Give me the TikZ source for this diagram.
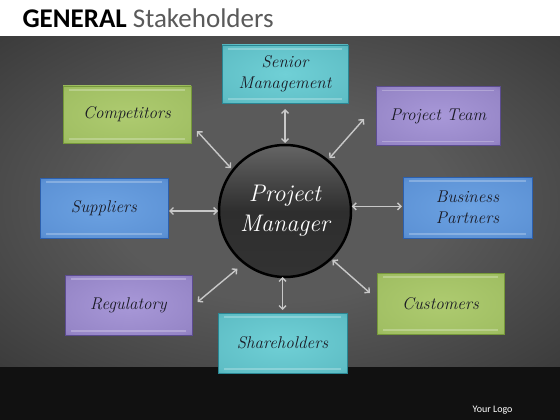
\documentclass[tikz,border=0pt]{standalone}
\usepackage{fontspec}
\newfontfamily\titlefont{Carlito}
\usetikzlibrary{arrows.meta,calc}
\definecolor{bgmid}{HTML}{5A5A5A}
\definecolor{bgedge}{HTML}{262626}
\definecolor{band}{HTML}{111111}
\definecolor{titlegray}{HTML}{5A5A5A}
\definecolor{arrowgray}{HTML}{C8C8C8}
\definecolor{boxtext}{HTML}{1A1A24}
\definecolor{tealout}{HTML}{2A8794}
\definecolor{tealin}{HTML}{70D0D6}
\definecolor{greenout}{HTML}{76993A}
\definecolor{greenin}{HTML}{AECB70}
\definecolor{purpout}{HTML}{5C4C90}
\definecolor{purpin}{HTML}{A898D8}
\definecolor{blueout}{HTML}{2C60AE}
\definecolor{bluein}{HTML}{6CA2E2}
\definecolor{sph0}{HTML}{6E6E6E}
\definecolor{sph1}{HTML}{333333}
\definecolor{sph2}{HTML}{2E2E2E}
\definecolor{sph3}{HTML}{707070}
\definecolor{sph4}{HTML}{B4B4B4}
\pgfdeclareradialshading{bgshade}{\pgfpoint{0bp}{0bp}}{color(0bp)=(bgmid); color(15bp)=(bgmid); color(50bp)=(bgedge); color(75bp)=(bgedge)}
\pgfdeclareradialshading{tealsh}{\pgfpoint{0bp}{0bp}}{color(0bp)=(tealin); color(32bp)=(tealin!75!tealout); color(50bp)=(tealout); color(75bp)=(tealout)}
\pgfdeclareradialshading{greensh}{\pgfpoint{0bp}{0bp}}{color(0bp)=(greenin); color(32bp)=(greenin!75!greenout); color(50bp)=(greenout); color(75bp)=(greenout)}
\pgfdeclareradialshading{purpsh}{\pgfpoint{0bp}{0bp}}{color(0bp)=(purpin); color(32bp)=(purpin!75!purpout); color(50bp)=(purpout); color(75bp)=(purpout)}
\pgfdeclareradialshading{bluesh}{\pgfpoint{0bp}{0bp}}{color(0bp)=(bluein); color(32bp)=(bluein!75!blueout); color(50bp)=(blueout); color(75bp)=(blueout)}
\pgfdeclareverticalshading{sphere}{100bp}{color(0bp)=(sph0); color(20bp)=(sph1); color(50bp)=(sph2); color(80bp)=(sph3); color(100bp)=(sph4)}
\begin{document}
\begin{tikzpicture}[x=1pt,y=-1pt,
  stake/.style 2 args={rectangle, inner sep=0pt, outer sep=0pt,
    shading=#1, draw=#2, line width=0.8pt,
    text=boxtext, align=center,
    font=\fontsize{17}{21}\selectfont\itshape,
    path picture={
      \draw[white, opacity=0.25, line width=1.2pt]
        ([shift={(6,4)}]path picture bounding box.north west) --
        ([shift={(-6,4)}]path picture bounding box.north east);
      \draw[white, opacity=0.25, line width=1.2pt]
        ([shift={(6,-4)}]path picture bounding box.south west) --
        ([shift={(-6,-4)}]path picture bounding box.south east);
    }},
  conn/.style={draw=arrowgray, line width=1.4pt,
    {Straight Barb[length=3.5pt,width=7pt]}-{Straight Barb[length=3.5pt,width=7pt]}}
]
\useasboundingbox (0,0) rectangle (560,420);
\fill[white] (0,0) rectangle (560,37);
\shade[shading=bgshade] (0,37) rectangle (560,367);
\fill[band] (0,367) rectangle (560,420);

\node[anchor=base west, font=\titlefont\fontsize{27}{32}\selectfont] (title) at (19,28)
  {\textbf{GENERAL} \textcolor{titlegray}{Stakeholders}};
\node[anchor=base east, text=white, font=\titlefont\fontsize{10}{12}\selectfont] (logo) at (516,412) {Your Logo};

\node[circle, minimum size=132pt, inner sep=0pt, outer sep=0pt, draw=black, line width=2.5pt,
  shading=sphere, text=white, align=center, font=\fontsize{24}{30}\selectfont\itshape]
  (pm) at (285,211) {Project\\Manager};

\node[stake={tealsh}{tealout}, minimum width=126pt, minimum height=58pt] (sm) at (285,74) {Senior\\Management};
\node[stake={greensh}{greenout}, minimum width=128pt, minimum height=57pt] (comp) at (127,114.5) {Competitors};
\node[stake={purpsh}{purpout}, minimum width=124pt, minimum height=59pt] (pt) at (438,116) {Project Team};
\node[stake={bluesh}{blueout}, minimum width=128pt, minimum height=60pt] (sup) at (104,208) {Suppliers};
\node[stake={bluesh}{blueout}, minimum width=129pt, minimum height=61pt] (bp) at (467.5,207.5) {Business\\Partners};
\node[stake={purpsh}{purpout}, minimum width=127pt, minimum height=60pt] (reg) at (128.5,305) {Regulatory};
\node[stake={greensh}{greenout}, minimum width=127pt, minimum height=61pt] (cust) at (440.5,303.5) {Customers};
\node[stake={tealsh}{tealout}, minimum width=129pt, minimum height=60pt] (sh) at (282.5,343) {Shareholders};

\draw[conn, shorten <=2pt, shorten >=6pt] (pm.north) -- (sm.south);
\draw[conn, shorten <=3pt] (pm.142) -- ([shift={(6,-12)}]comp.south east);
\draw[conn, shorten <=3pt] (pm.50) -- ([shift={(-12,-26.5)}]pt.south west);
\draw[conn, shorten <=1pt, shorten >=1pt] (pm.west) -- (sup.east |- pm.west);
\draw[conn, shorten <=1pt, shorten >=1pt] (pm.4) -- (bp.west |- pm.4);
\draw[conn, shorten <=9pt] (pm.232) -- ([shift={(5.5,27)}]reg.north east);
\draw[conn, shorten <=2pt] (pm.314) -- ([shift={(-7,20)}]cust.north west);
\draw[conn, shorten >=3pt] (sh.north |- pm.south) -- (sh.north);
\end{tikzpicture}
\end{document}
